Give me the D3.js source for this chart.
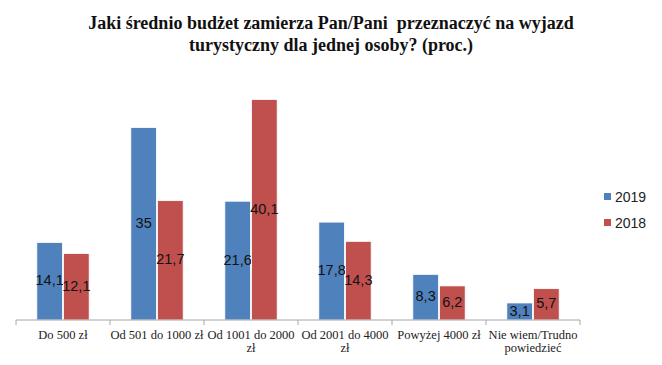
<!DOCTYPE html>
<html>
<head>
<meta charset="utf-8">
<script src="https://cdn.jsdelivr.net/npm/d3@7"></script>
<style>
  body { margin: 0; background: #fff; }
</style>
</head>
<body>
<div id="chart"></div>
<script>
const categories = ["Do 500 zł", "Od 501 do 1000 zł", "Od 1001 do 2000 zł", "Od 2001 do 4000 zł", "Powyżej 4000 zł", "Nie wiem/Trudno powiedzieć"];
const categoryLines = [["Do 500 zł"], ["Od 501 do 1000 zł"], ["Od 1001 do 2000", "zł"], ["Od 2001 do 4000", "zł"], ["Powyżej 4000 zł"], ["Nie wiem/Trudno", "powiedzieć"]];
const seriesNames = ["2019", "2018"];
const values2019 = [14.1, 35, 21.6, 17.8, 8.3, 3.1];
const values2018 = [12.1, 21.7, 40.1, 14.3, 6.2, 5.7];
const colors = ["#4F81BD", "#C0504D"];
const titleLines = ["Jaki średnio budżet zamierza Pan/Pani  przeznaczyć na wyjazd", "turystyczny dla jednej osoby? (proc.)"];

const W = 662, H = 365;
const yData = [
  { name: seriesNames[0], values: values2019 },
  { name: seriesNames[1], values: values2018 }
];

const svg = d3.select("#chart").append("svg")
  .attr("width", W).attr("height", H)
  .style("background", "#fff");

const x0 = d3.scaleBand().domain(categories).range([16, 580]).paddingInner(0).paddingOuter(0);
const x1 = d3.scaleBand().domain(seriesNames).range([0, x0.bandwidth()]).paddingInner(0.04).paddingOuter(0.78);
const y = d3.scaleLinear().domain([0, 45]).range([320, 72.5]);

// title
svg.append("g").selectAll("text")
  .data(titleLines)
  .join("text")
  .attr("x", 331)
  .attr("y", (d, i) => 29 + i * 22)
  .attr("text-anchor", "middle")
  .style("white-space", "pre")
  .style("font-family", "'Liberation Serif', serif")
  .style("font-weight", "bold")
  .style("font-size", "18px")
  .style("fill", "#111")
  .text(d => d);

// bars
const groups = svg.append("g").selectAll("g")
  .data(yData)
  .join("g")
  .attr("fill", (_, i) => colors[i]);

groups.selectAll("rect")
  .data(d => d.values.map((v, j) => ({ key: categories[j], value: v, name: d.name })))
  .join("rect")
  .attr("x", d => x0(d.key) + x1(d.name))
  .attr("width", x1.bandwidth())
  .attr("y", d => y(d.value))
  .attr("height", d => y(0) - y(d.value))
  .attr("stroke", "#fff")
  .attr("stroke-width", 0.8);

// value labels
groups.selectAll("text")
  .data(d => d.values.map((v, j) => ({ key: categories[j], value: v, name: d.name })))
  .join("text")
  .attr("x", d => x0(d.key) + x1(d.name) + x1.bandwidth() / 2)
  .attr("y", d => (y(d.value) + y(0)) / 2 - 1)
  .attr("dy", "0.35em")
  .attr("text-anchor", "middle")
  .style("font-family", "'Liberation Sans', sans-serif")
  .style("font-size", "14.5px")
  .style("fill", "#111")
  .text(d => String(d.value).replace(".", ","));

// axis
const axis = svg.append("g").attr("transform", `translate(0,${y(0)})`);
axis.append("line")
  .attr("x1", 16).attr("x2", 580)
  .attr("stroke", "#a6a6a6");
axis.selectAll(".tick")
  .data(categories.map(c => x0(c)).concat([x0.range()[1]]))
  .join("line")
  .attr("x1", d => d).attr("x2", d => d)
  .attr("y1", 0).attr("y2", 5)
  .attr("stroke", "#a6a6a6");

axis.selectAll(".cat")
  .data(categoryLines)
  .join("text")
  .attr("text-anchor", "middle")
  .attr("transform", (d, i) => `translate(${x0(categories[i]) + x0.bandwidth() / 2},19)`)
  .style("font-family", "'Liberation Serif', serif")
  .style("font-size", "12.5px")
  .style("fill", "#222")
  .selectAll("tspan")
  .data(d => d)
  .join("tspan")
  .attr("x", 0)
  .attr("dy", (d, i) => i === 0 ? 0 : 13)
  .text(d => d);

// legend
const legend = svg.append("g").selectAll("g")
  .data(seriesNames)
  .join("g")
  .attr("transform", (d, i) => `translate(604,${193 + i * 26})`);
legend.append("rect")
  .attr("width", 7).attr("height", 7)
  .attr("fill", (_, i) => colors[i]);
legend.append("text")
  .attr("x", 11).attr("y", 4)
  .attr("dy", "0.35em")
  .style("font-family", "'Liberation Sans', sans-serif")
  .style("font-size", "14px")
  .style("fill", "#222")
  .text(d => d);
</script>
</body>
</html>
